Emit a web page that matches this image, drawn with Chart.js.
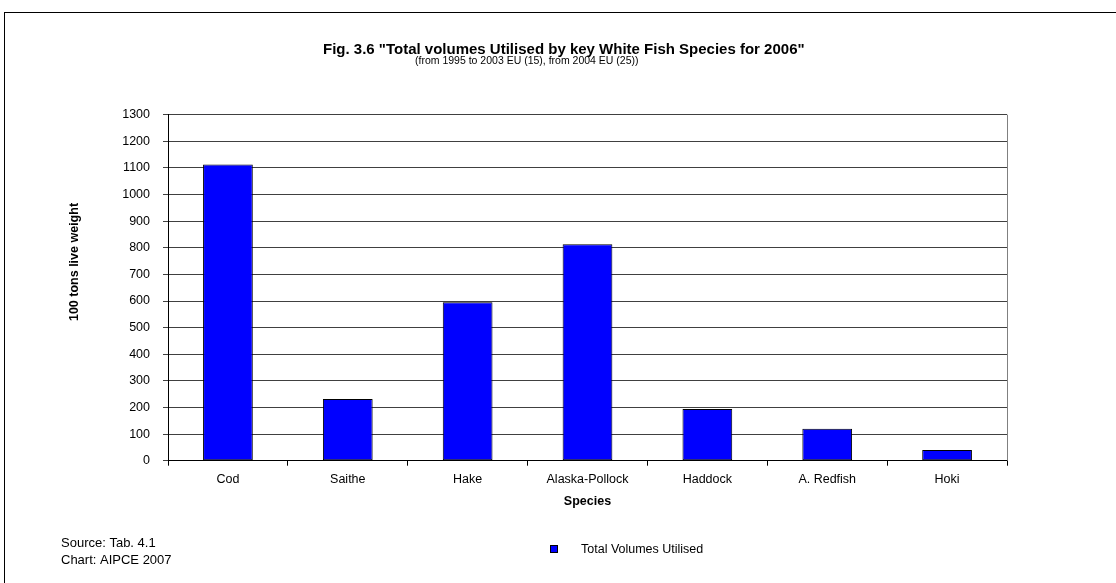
<!DOCTYPE html>
<html>
<head>
<meta charset="utf-8">
<script src="https://cdn.jsdelivr.net/npm/chart.js@4/dist/chart.umd.min.js"></script>
<style>
  html, body { margin: 0; padding: 0; background: #fff; }
  #wrap { position: relative; width: 1116px; height: 583px; overflow: hidden; }
  #frame { position: absolute; left: 4px; top: 12px; width: 1300px; height: 800px; border: 1px solid #000; box-sizing: border-box; }
  #c { position: absolute; left: 0; top: 0; }
</style>
</head>
<body>
<div id="wrap">
  <div id="frame"></div>
  <canvas id="c" width="1116" height="583"></canvas>
</div>
<script>
// Species and utilised volumes (100 tons live weight), 2006
const species = ['Cod', 'Saithe', 'Hake', 'Alaska-Pollock', 'Haddock', 'A. Redfish', 'Hoki'];
const volumes = [1113, 232, 595, 813, 194, 120, 40];
const seriesName = 'Total Volumes Utilised';

// Value axis range
const yMin = 0;
const yMax = 1300;
const yStep = 100;

// Texts around the chart
const titleText = 'Fig. 3.6 "Total volumes Utilised by key White Fish Species for 2006"';
const subtitleText = '(from 1995 to 2003 EU (15), from 2004 EU (25))';
const yTitle = '100 tons live weight';
const xTitle = 'Species';
const sourceLines = ['Source: Tab. 4.1', 'Chart: AIPCE 2007'];

const FONT = '"Liberation Sans", Arial, sans-serif';
const BAR_BLUE = '#0000FF';

const decorations = {
  id: 'decorations',
  afterDraw(chart) {
    const { ctx, chartArea } = chart;
    ctx.save();

    // right edge of the plot frame
    ctx.strokeStyle = '#808080';
    ctx.lineWidth = 1;
    ctx.beginPath();
    ctx.moveTo(Math.round(chartArea.right) + 0.5, chartArea.top);
    ctx.lineTo(Math.round(chartArea.right) + 0.5, chartArea.bottom);
    ctx.stroke();

    ctx.fillStyle = '#000';
    ctx.textBaseline = 'middle';

    // title and subtitle
    ctx.textAlign = 'left';
    ctx.font = 'bold 15px ' + FONT;
    ctx.fillText(titleText, 323, 50);
    ctx.font = '10.5px ' + FONT;
    ctx.fillText(subtitleText, 415, 61.5);

    // value axis title
    ctx.save();
    ctx.translate(75, 262);
    ctx.rotate(-Math.PI / 2);
    ctx.textAlign = 'center';
    ctx.font = 'bold 12.5px ' + FONT;
    ctx.fillText(yTitle, 0, 0);
    ctx.restore();

    // source notes
    ctx.textAlign = 'left';
    ctx.font = '13px ' + FONT;
    ctx.fillText(sourceLines[0], 61, 543);
    ctx.fillText(sourceLines[1], 61, 560);

    // legend
    ctx.fillStyle = BAR_BLUE;
    ctx.fillRect(550, 545, 8, 8);
    ctx.strokeStyle = '#000';
    ctx.strokeRect(550.5, 545.5, 7, 7);
    ctx.fillStyle = '#000';
    ctx.font = '12.5px ' + FONT;
    ctx.fillText(seriesName, 581, 550);

    ctx.restore();
  }
};

new Chart(document.getElementById('c'), {
  type: 'bar',
  data: {
    labels: species,
    datasets: [{
      label: seriesName,
      data: volumes,
      backgroundColor: BAR_BLUE,
      borderColor: '#000',
      borderWidth: 1,
      borderSkipped: false,
      barPercentage: 0.415,
      categoryPercentage: 1
    }]
  },
  options: {
    responsive: false,
    animation: false,
    devicePixelRatio: 1,
    layout: { padding: { left: 0, top: 114.7, right: 109, bottom: 70 } },
    plugins: {
      legend: { display: false },
      title: { display: false },
      tooltip: { enabled: false }
    },
    scales: {
      x: {
        grid: { display: true, drawOnChartArea: false, drawTicks: true, tickLength: 5, color: '#000', offset: true },
        border: { display: true, color: '#000', width: 1 },
        ticks: { color: '#000', font: { family: FONT, size: 12.5 }, padding: 6, maxRotation: 0, autoSkip: false },
        title: { display: true, text: xTitle, color: '#000', font: { family: FONT, size: 12.5, weight: 'bold' }, padding: { top: 0, bottom: 3.5 } },
        afterFit(scale) { scale.height = 52.3; }
      },
      y: {
        min: yMin,
        max: yMax,
        grid: { color: '#404040', lineWidth: 1, drawTicks: true, tickLength: 5 },
        border: { display: true, color: '#000', width: 1 },
        ticks: {
          stepSize: yStep,
          color: '#000',
          font: { family: FONT, size: 12.5 },
          padding: 13,
          callback: (v) => String(v)
        },
        afterFit(scale) { scale.width = 168; }
      }
    }
  },
  plugins: [decorations]
});
</script>
</body>
</html>
